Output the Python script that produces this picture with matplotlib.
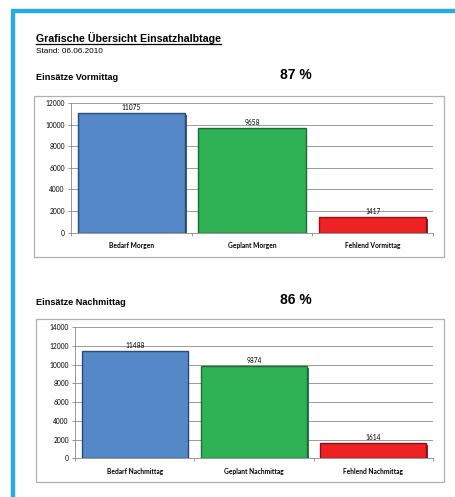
import matplotlib
matplotlib.use('Agg')
import matplotlib.pyplot as plt
from matplotlib.patches import Rectangle
from matplotlib.lines import Line2D
import matplotlib.patheffects as pe

# daten
kat_vm = ['Bedarf Morgen', 'Geplant Morgen', 'Fehlend Vormittag']
werte_vm = [11075, 9658, 1417]
kat_nm = ['Bedarf Nachmittag', 'Geplant Nachmittag', 'Fehlend Nachmittag']
werte_nm = [11488, 9874, 1614]
quote_vm = '87 %'
quote_nm = '86 %'
farben = ['#5588c6', '#2fb155', '#ee2125']
kanten = ['#2a4a78', '#1a6e33', '#8a1215']

W, H = 455, 497
fig = plt.figure(figsize=(W / 100, H / 100), dpi=100)
fig.patch.set_facecolor('white')

def fx(x):
    return x / W

def fy(y):
    return 1 - y / H

# blauer rahmen oben und links
fig.add_artist(Line2D([fx(11), 1], [fy(11), fy(11)], color='#29abe2', lw=3.2, solid_capstyle='butt'))
fig.add_artist(Line2D([fx(13), fx(13)], [fy(9.5), 0], color='#29abe2', lw=3.2, solid_capstyle='butt'))

schrift = ['Liberation Sans', 'DejaVu Sans']
fig.text(fx(36), fy(42), 'Grafische Übersicht Einsatzhalbtage', fontsize=7.7,
         fontweight='bold', family=schrift, va='baseline')
fig.add_artist(Line2D([fx(36), fx(221)], [fy(44), fy(44)], color='black', lw=0.9))
fig.text(fx(36), fy(53), 'Stand: 06.06.2010', fontsize=5.9, family=schrift, va='baseline')


def diagramm(titel, kat, werte, quote, titel_y, box, ax_pos, ymax):
    fig.text(fx(36), fy(titel_y), titel, fontsize=6.6, fontweight='bold', family=schrift, va='baseline')
    fig.text(fx(296), fy(titel_y - 1), quote, fontsize=10, fontweight='bold',
             family=schrift, va='baseline', ha='center')
    x0, y0, x1, y1 = box
    fig.add_artist(Rectangle((fx(x0), fy(y1)), fx(x1 - x0), fy(y0) - fy(y1),
                             facecolor='white', edgecolor='#b0b0b0', lw=0.9, zorder=-5,
                             transform=fig.transFigure,
                             path_effects=[pe.SimplePatchShadow(offset=(1, -1), alpha=0.25), pe.Normal()]))
    l, t, r, b = ax_pos
    ax = fig.add_axes([fx(l), fy(b), fx(r - l), fy(t) - fy(b)])
    ax.set_facecolor('none')
    pos = list(range(len(werte)))
    bars = ax.bar(pos, werte, width=0.89, color=farben, edgecolor=kanten, linewidth=1.0, zorder=3)
    for bar, k in zip(bars, kanten):
        bar.set_path_effects([pe.SimplePatchShadow(offset=(1.2, -1.2), shadow_rgbFace=k, alpha=0.9), pe.Normal()])
    for p, v in zip(pos, werte):
        ax.text(p, v + ymax * 0.015, str(v), ha='center', va='bottom', fontsize=4.8, family=['Lato', 'DejaVu Sans'])
    ax.set_xlim(-0.5, len(werte) - 0.5)
    ax.set_ylim(0, ymax)
    ax.set_yticks(range(0, ymax + 1, 2000))
    ax.set_xticks(pos)
    ax.set_xticklabels(kat, fontsize=4.8, fontweight='bold', family=['Lato', 'DejaVu Sans'])
    ax.set_xticks([-0.5, 0.5, 1.5, 2.5], minor=True)
    ax.tick_params(axis='x', which='major', length=0, pad=7)
    ax.tick_params(axis='x', which='minor', length=2.5, color='#888888', width=0.6)
    ax.tick_params(axis='y', length=2.5, color='#888888', width=0.6, labelsize=4.8, pad=2)
    for lab in ax.get_yticklabels():
        lab.set_family(['Lato', 'DejaVu Sans'])
    ax.yaxis.grid(True, color='#8c8c8c', lw=0.6, zorder=0)
    for s in ['top', 'right']:
        ax.spines[s].set_visible(False)
    for s in ['left', 'bottom']:
        ax.spines[s].set_color('#888888')
        ax.spines[s].set_linewidth(0.6)
    return ax


diagramm('Einsätze Vormittag', kat_vm, werte_vm, quote_vm, 80,
         (34, 96, 444, 257), (71, 103, 433, 232.7), 12000)
diagramm('Einsätze Nachmittag', kat_nm, werte_nm, quote_nm, 305,
         (36, 319, 444, 482), (75, 327.3, 433, 458.3), 14000)

fig.savefig('out.png', dpi=100)
